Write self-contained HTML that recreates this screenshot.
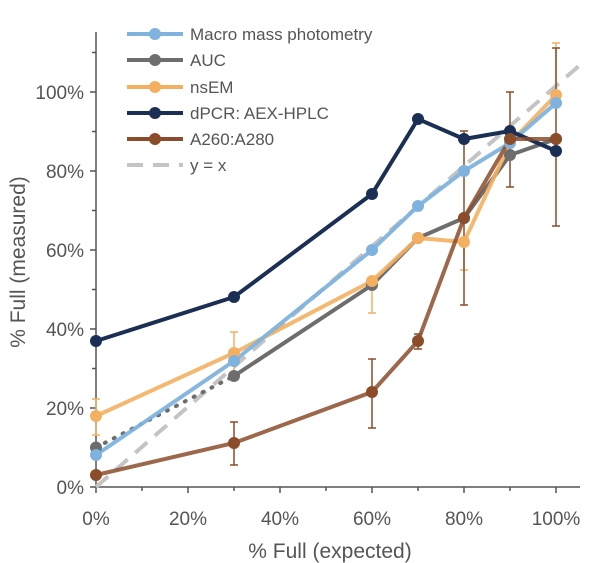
<!DOCTYPE html>
<html><head><style>body{margin:0;background:#fff}svg{display:block}text{font-family:"Liberation Sans",sans-serif;fill:#555}</style></head>
<body>
<svg width="616" height="563" viewBox="0 0 616 563">
<g stroke="#555" stroke-width="1.5" fill="none">
<line x1="96" y1="32" x2="96" y2="487"/>
<line x1="96" y1="487" x2="580" y2="487"/>
<path d="M90 487h6M92 447.5h4M90 408h6M92 368.5h4M90 329h6M92 289.5h4M90 250h6M92 210.5h4M90 171h6M92 131.5h4M90 92h6M92 52.5h4"/>
<path d="M96 487v6M142 487v4M188 487v6M234 487v4M280 487v6M326 487v4M372 487v6M418 487v4M464 487v6M510 487v4M556 487v6"/>
</g>
<g font-size="19" text-anchor="end">
<text x="84" y="494">0%</text><text x="84" y="415">20%</text><text x="84" y="336">40%</text><text x="84" y="257">60%</text><text x="84" y="178">80%</text><text x="84" y="99">100%</text>
</g>
<g font-size="19" text-anchor="middle">
<text x="96" y="525">0%</text><text x="188" y="525">20%</text><text x="280" y="525">40%</text><text x="372" y="525">60%</text><text x="464" y="525">80%</text><text x="556" y="525">100%</text>
<text x="330" y="558" font-size="21">% Full (expected)</text>
<text transform="translate(25,262) rotate(-90)" font-size="21">% Full (measured)</text>
</g>
<line x1="96" y1="487" x2="580" y2="65" stroke="#c4c4c4" stroke-width="4" stroke-dasharray="16,10"/>
<g stroke="#f4b061" stroke-width="1.5" fill="none">
<path d="M96 435v-36M92 435h8M92 399h8M234 372v-40M230 332h8M372 313v-30M368 313h8M464 270v-30M460 270h8M556 43v60M552 43h8"/>
</g>
<g stroke="#8b4c2a" stroke-width="1.5" fill="none">
<path d="M234 465v-43M230 465h8M230 422h8M372 428v-69M368 428h8M368 359h8M418 349v-15M414 349h8M414 334h8M464 305v-174M460 305h8M460 131h8M510 187v-95M506 187h8M506 92h8M556 226v-178M552 226h8M552 48h8"/>
</g>
<polyline points="96,447.5 234,376" fill="none" stroke="#6d6d6d" stroke-width="4" stroke-dasharray="1,9" stroke-linecap="round"/>
<polyline points="234,376 372,285 418,238 464,218 510,155 556,139" fill="none" stroke="#6d6d6d" stroke-width="4"/>
<polyline points="96,416 234,353 372,281 418,238 464,242 510,143 556,95" fill="none" stroke="#f4b061" stroke-width="4" opacity="0.9"/>
<polyline points="96,455 234,361 372,250 418,206 464,171 510,143 556,103" fill="none" stroke="#7fb3de" stroke-width="4" opacity="0.95"/>
<polyline points="96,341 234,297 372,194 418,119 464,139 510,131 556,151" fill="none" stroke="#1b2f55" stroke-width="4"/>
<polyline points="96,475 234,443 372,392 418,341 464,218 510,139 556,139" fill="none" stroke="#8b4c2a" stroke-width="4" opacity="0.85"/>
<g fill="#6d6d6d"><circle cx="96" cy="447.5" r="6"/><circle cx="234" cy="376" r="6"/><circle cx="372" cy="285" r="6"/><circle cx="418" cy="238" r="6"/><circle cx="464" cy="218" r="6"/><circle cx="510" cy="155" r="6"/><circle cx="556" cy="139" r="6"/></g>
<g fill="#f4b061"><circle cx="96" cy="416" r="6"/><circle cx="234" cy="353" r="6"/><circle cx="372" cy="281" r="6"/><circle cx="418" cy="238" r="6"/><circle cx="464" cy="242" r="6"/><circle cx="510" cy="143" r="6"/><circle cx="556" cy="95" r="6"/></g>
<g fill="#7fb3de"><circle cx="96" cy="455" r="6"/><circle cx="234" cy="361" r="6"/><circle cx="372" cy="250" r="6"/><circle cx="418" cy="206" r="6"/><circle cx="464" cy="171" r="6"/><circle cx="510" cy="143" r="6"/><circle cx="556" cy="103" r="6"/></g>
<g fill="#1b2f55"><circle cx="96" cy="341" r="6"/><circle cx="234" cy="297" r="6"/><circle cx="372" cy="194" r="6"/><circle cx="418" cy="119" r="6"/><circle cx="464" cy="139" r="6"/><circle cx="510" cy="131" r="6"/><circle cx="556" cy="151" r="6"/></g>
<g fill="#8b4c2a"><circle cx="96" cy="475" r="6"/><circle cx="234" cy="443" r="6"/><circle cx="372" cy="392" r="6"/><circle cx="418" cy="341" r="6"/><circle cx="464" cy="218" r="6"/><circle cx="510" cy="139" r="6"/><circle cx="556" cy="139" r="6"/></g>
<g stroke-width="4">
<line x1="127" y1="34" x2="183" y2="34" stroke="#7fb3de"/><circle cx="155" cy="34" r="6" fill="#7fb3de"/>
<line x1="127" y1="60" x2="183" y2="60" stroke="#6d6d6d"/><circle cx="155" cy="60" r="6" fill="#6d6d6d"/>
<line x1="127" y1="87" x2="183" y2="87" stroke="#f4b061"/><circle cx="155" cy="87" r="6" fill="#f4b061"/>
<line x1="127" y1="113" x2="183" y2="113" stroke="#1b2f55"/><circle cx="155" cy="113" r="6" fill="#1b2f55"/>
<line x1="127" y1="139" x2="183" y2="139" stroke="#8b4c2a"/><circle cx="155" cy="139" r="6" fill="#8b4c2a"/>
<line x1="127" y1="165" x2="183" y2="165" stroke="#c4c4c4" stroke-dasharray="16,10"/>
</g>
<g font-size="17" fill="#555">
<text x="190" y="40">Macro mass photometry</text><text x="190" y="66">AUC</text><text x="190" y="93">nsEM</text><text x="190" y="119">dPCR: AEX-HPLC</text><text x="190" y="145">A260:A280</text><text x="190" y="171">y = x</text>
</g>
</svg>
</body></html>
